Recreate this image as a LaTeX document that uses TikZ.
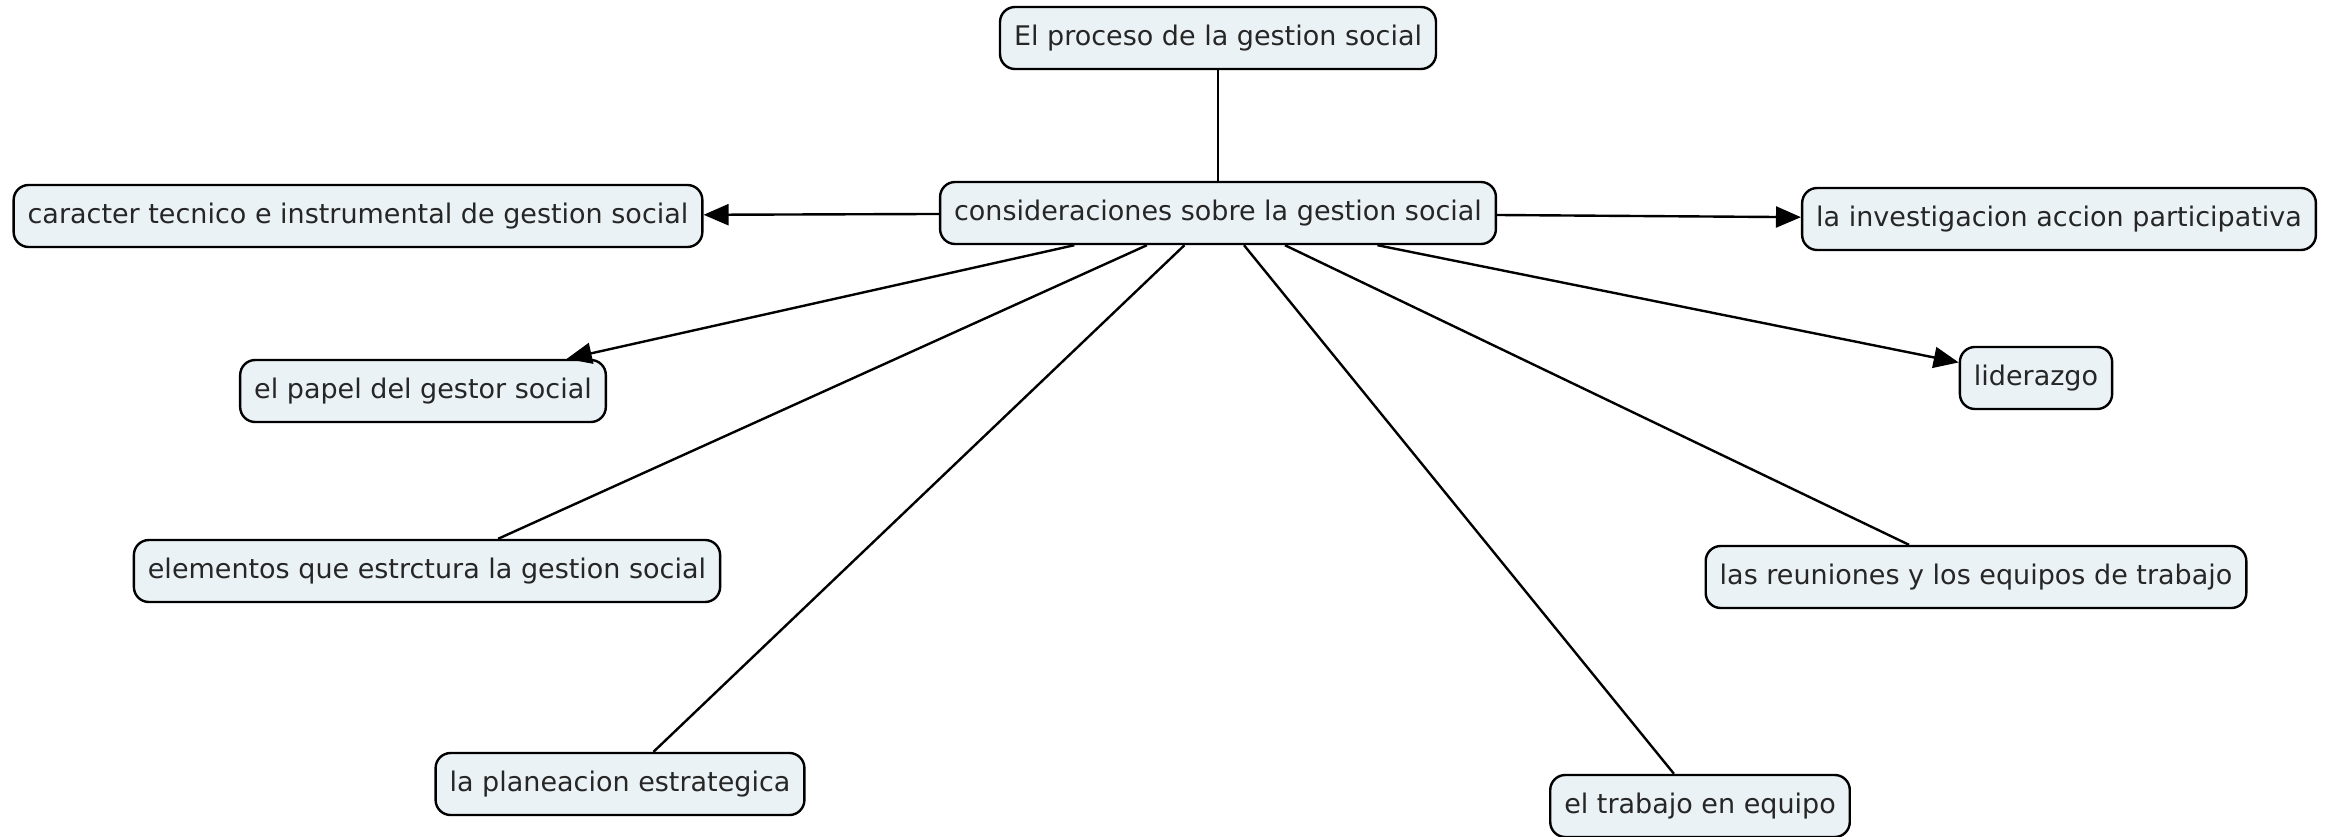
\documentclass[tikz,border=0pt]{standalone}
\usepackage{fontspec}
\setmainfont{DejaVu Sans}
\usetikzlibrary{arrows.meta}
\definecolor{boxfill}{RGB}{235,242,245}
\begin{document}
\begin{tikzpicture}[x=1pt,y=-1pt,
  concept/.style={draw=black,line width=2.4pt,fill=boxfill,rounded corners=15pt,
    minimum height=62pt,inner xsep=14pt,inner ysep=0pt,
    font=\fontsize{27}{32}\selectfont,text=black!85},
  link/.style={line width=2.4pt,draw=black},
  arr/.style={link,-{Triangle[length=25pt,width=21pt]}}]
\useasboundingbox (0,0) rectangle (2341,837);
\node[concept] (top) at (1218,38) {El proceso de la gestion social};
\node[concept] (c) at (1218,213) {consideraciones sobre la gestion social};
\node[concept] (car) at (358,216) {caracter tecnico e instrumental de gestion social};
\node[concept] (inv) at (2059,219) {la investigacion accion participativa};
\node[concept] (pap) at (423,391) {el papel del gestor social};
\node[concept] (lid) at (2036,378) {liderazgo};
\node[concept] (ele) at (427,571) {elementos que estrctura la gestion social};
\node[concept] (reu) at (1976,577) {las reuniones y los equipos de trabajo};
\node[concept] (pla) at (620,784) {la planeacion estrategica};
\node[concept] (tra) at (1700,806) {el trabajo en equipo};
\draw[link] (top) -- (c);
\draw[arr] (c) -- (car);
\draw[arr] (c) -- (inv);
\draw[arr] (c) -- (pap);
\draw[arr] (c) -- (lid);
\draw[link] (c) -- (ele);
\draw[link] (c) -- (pla);
\draw[link] (c) -- (tra);
\draw[link] (c) -- (reu);
\end{tikzpicture}
\end{document}
